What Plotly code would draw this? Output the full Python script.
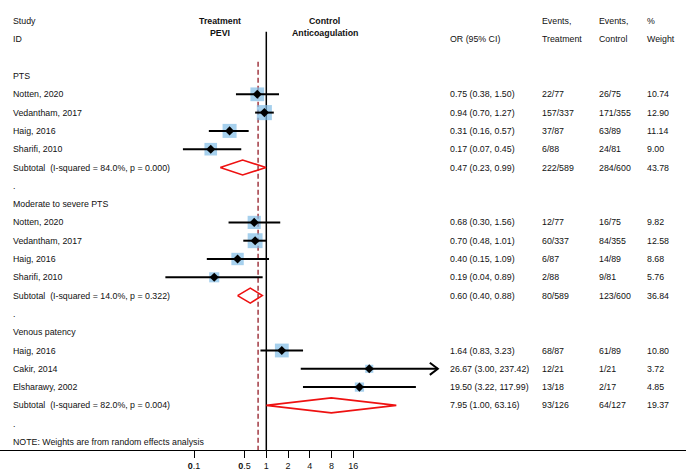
import math
import plotly.graph_objects as go

# ---------------- data ----------------
group_names = ["PTS", "Moderate to severe PTS", "Venous patency"]
group_sizes = [4, 4, 3]

study_names = ["Notten, 2020", "Vedantham, 2017", "Haig, 2016", "Sharifi, 2010",
               "Notten, 2020", "Vedantham, 2017", "Haig, 2016", "Sharifi, 2010",
               "Haig, 2016", "Cakir, 2014", "Elsharawy, 2002"]
study_or = [0.75, 0.94, 0.31, 0.17, 0.68, 0.70, 0.40, 0.19, 1.64, 26.67, 19.50]
study_lo = [0.38, 0.70, 0.16, 0.07, 0.30, 0.48, 0.15, 0.04, 0.83, 3.00, 3.22]
study_hi = [1.50, 1.27, 0.57, 0.45, 1.56, 1.01, 1.09, 0.89, 3.23, 237.42, 117.99]
study_ev_t = ["22/77", "157/337", "37/87", "6/88", "12/77", "60/337", "6/87", "2/88",
              "68/87", "12/21", "13/18"]
study_ev_c = ["26/75", "171/355", "63/89", "24/81", "16/75", "84/355", "14/89", "9/81",
              "61/89", "1/21", "2/17"]
study_weight = [10.74, 12.90, 11.14, 9.00, 9.82, 12.58, 8.68, 5.76, 10.80, 3.72, 4.85]

sub_het = ["I-squared = 84.0%, p = 0.000", "I-squared = 14.0%, p = 0.322",
           "I-squared = 82.0%, p = 0.004"]
sub_or = [0.47, 0.60, 7.95]
sub_lo = [0.23, 0.40, 1.00]
sub_hi = [0.99, 0.88, 63.16]
sub_ev_t = ["222/589", "80/589", "93/126"]
sub_ev_c = ["284/600", "123/600", "64/127"]
sub_weight = [43.78, 36.84, 19.37]

overall_or = 0.77
arrow_limit = 200  # CIs beyond this end in an arrow

x_ticks = [0.1, 0.5, 1, 2, 4, 8, 16]
x_tick_labels = ["<b>0</b>.1", "<b>0</b>.5", "1", "2", "4", "8", "16"]

note_text = "NOTE: Weights are from random effects analysis"

# ---------------- styling ----------------
FONT = "Liberation Sans, Arial, sans-serif"
FS = 8.8
TXT = "#111111"
W, H = 686, 475
ONE_PX = 266.3
PX_DEC = 72.2
ROW0_PX = 76.0
ROW_PX = 18.3
BOTTOM_PX = 450.0

x_range = [-ONE_PX / PX_DEC, (W - ONE_PX) / PX_DEC]
y_top = -ROW0_PX / ROW_PX
y_bot = (BOTTOM_PX - ROW0_PX) / ROW_PX

COL_LEFT = 11 / W
COL_OR = 448 / W
COL_EVT = 540 / W
COL_EVC = 597 / W
COL_W = 645 / W

fig = go.Figure()
annotations = []


def txt(x, y, s, bold=False, xanchor="left"):
    annotations.append(dict(
        x=x, y=y, xref="paper", yref="y", text=(f"<b>{s}</b>" if bold else s),
        showarrow=False, xanchor=xanchor, yanchor="middle",
        font=dict(family=FONT, size=FS, color=TXT)))


# headers
txt(COL_LEFT, -3, "Study")
txt(COL_LEFT, -2, "ID")
txt(220 / W, -3, "Treatment", bold=True, xanchor="center")
txt(220 / W, -2.35, "PEVI", bold=True, xanchor="center")
txt(324.5 / W, -3, "Control", bold=True, xanchor="center")
txt(324.5 / W, -2.35, "Anticoagulation", bold=True, xanchor="center")
txt(COL_OR, -2, "OR (95% CI)")
txt(COL_EVT, -3, "Events,")
txt(COL_EVT, -2, "Treatment")
txt(COL_EVC, -3, "Events,")
txt(COL_EVC, -2, "Control")
txt(COL_W, -3, "%")
txt(COL_W, -2, "Weight")

sq_x, sq_y, sq_s = [], [], []
pt_x, pt_y = [], []
ci_x, ci_y = [], []
ar_x, ar_y = [], []
dm_x, dm_y = [], []

row = 0
idx = 0
for g, gname in enumerate(group_names):
    txt(COL_LEFT, row, gname)
    row += 1
    for k in range(group_sizes[g]):
        i = idx + k
        txt(COL_LEFT, row, study_names[i])
        txt(COL_OR, row, f"{study_or[i]:.2f} ({study_lo[i]:.2f}, {study_hi[i]:.2f})")
        txt(COL_EVT, row, study_ev_t[i])
        txt(COL_EVC, row, study_ev_c[i])
        txt(COL_W, row, f"{study_weight[i]:.2f}")
        sq_x.append(study_or[i]); sq_y.append(row)
        sq_s.append(4.2 * math.sqrt(study_weight[i]))
        pt_x.append(study_or[i]); pt_y.append(row)
        ci_x += [study_lo[i], study_hi[i], None]
        ci_y += [row, row, None]
        if study_hi[i] > arrow_limit:
            f = 10 ** (8 / PX_DEC)
            ar_x += [study_hi[i] / f, study_hi[i], study_hi[i] / f, None]
            ar_y += [row - 0.33, row, row + 0.33, None]
        row += 1
    idx += group_sizes[g]
    txt(COL_LEFT, row, "Subtotal\u00a0\u00a0(" + sub_het[g] + ")")
    txt(COL_OR, row, f"{sub_or[g]:.2f} ({sub_lo[g]:.2f}, {sub_hi[g]:.2f})")
    txt(COL_EVT, row, sub_ev_t[g])
    txt(COL_EVC, row, sub_ev_c[g])
    txt(COL_W, row, f"{sub_weight[g]:.2f}")
    h = 0.41
    dm_x += [sub_lo[g], sub_or[g], sub_hi[g], sub_or[g], sub_lo[g], None]
    dm_y += [row, row - h, row, row + h, row, None]
    row += 1
    txt(COL_LEFT, row, ".")
    row += 1

txt(COL_LEFT, row, note_text)

# reference lines
fig.add_trace(go.Scatter(x=[1, 1], y=[-2.42, y_bot], mode="lines",
                         line=dict(color="black", width=1.5), hoverinfo="skip"))
fig.add_trace(go.Scatter(x=[overall_or, overall_or], y=[-0.78, y_bot], mode="lines",
                         line=dict(color="#a8464f", width=1.6, dash="5px,3px"),
                         hoverinfo="skip"))

# squares
fig.add_trace(go.Scatter(x=sq_x, y=sq_y, mode="markers",
                         marker=dict(symbol="square", size=sq_s, color="#80bce6",
                                     line=dict(width=0))))
# CI lines
fig.add_trace(go.Scatter(x=ci_x, y=ci_y, mode="lines",
                         line=dict(color="black", width=2)))
fig.add_trace(go.Scatter(x=ar_x, y=ar_y, mode="lines",
                         line=dict(color="black", width=2)))
# point estimates
fig.add_trace(go.Scatter(x=pt_x, y=pt_y, mode="markers",
                         marker=dict(symbol="diamond", size=7, color="black",
                                     line=dict(width=0))))
# subtotal diamonds
fig.add_trace(go.Scatter(x=dm_x, y=dm_y, mode="lines",
                         line=dict(color="#ee1111", width=1.6)))

fig.update_layout(
    width=W, height=H,
    margin=dict(l=0, r=0, t=0, b=H - BOTTOM_PX),
    paper_bgcolor="white", plot_bgcolor="white",
    showlegend=False,
    annotations=annotations,
    xaxis=dict(type="log", range=x_range, tickvals=x_ticks, ticktext=x_tick_labels,
               ticks="outside", ticklen=7, tickwidth=1.4, tickcolor="black",
               showline=True, linecolor="black", linewidth=1.4,
               showgrid=False, zeroline=False, fixedrange=True,
               tickfont=dict(family=FONT, size=9, color=TXT)),
    yaxis=dict(range=[y_bot, y_top], visible=False, showgrid=False,
               zeroline=False, fixedrange=True),
)

fig.write_html("out.html", config={"displayModeBar": False},
               post_script="document.body.style.margin='0';")
